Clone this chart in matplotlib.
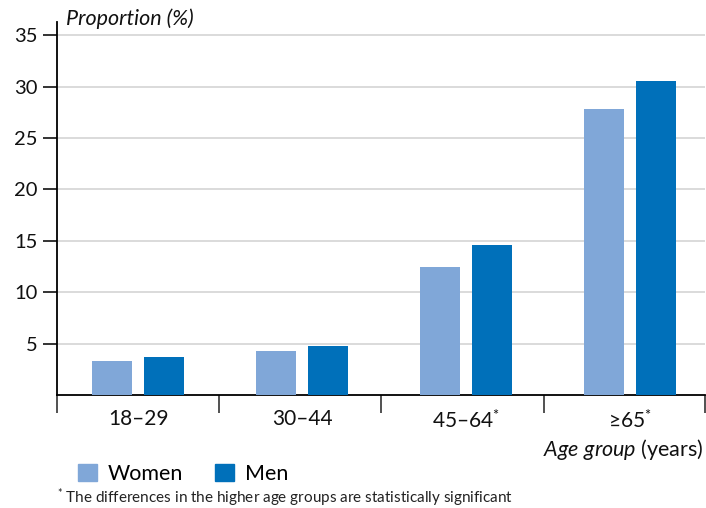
import matplotlib.pyplot as plt
from matplotlib.patches import Patch
import numpy as np

plt.rcParams['font.family'] = ['Lato', 'DejaVu Sans']
plt.rcParams['mathtext.fontset'] = 'custom'
plt.rcParams['mathtext.rm'] = 'Lato'
plt.rcParams['mathtext.it'] = 'Lato:italic'

# Data
age_groups = ['18–29', '30–44', '45–64$^{*}$', '≥65$^{*}$']
women = [3.3, 4.3, 12.5, 27.8]
men = [3.7, 4.8, 14.6, 30.6]
y_ticks = [5, 10, 15, 20, 25, 30, 35]

c_women = '#80A7D8'
c_men = '#0070BA'

fig = plt.figure(figsize=(7.06, 5.08), dpi=100)
ax = fig.add_axes([57 / 706, 1 - 395 / 508, 648 / 706, 373 / 508])

x = np.arange(len(age_groups))
w = 0.244
off = 0.159
ax.bar(x - off, women, width=w, color=c_women, zorder=3)
ax.bar(x + off, men, width=w, color=c_men, zorder=3)

# group separators (slightly narrower spacing than the bar groups)
edges = [-0.494, 0.494, 1.482, 2.476, 3.457]
ax.set_xlim(edges[0], edges[-1])
ax.set_ylim(0, 36.3)
ax.set_yticks(y_ticks)
ax.yaxis.grid(True, color='#d4d4d4', linewidth=1.2, zorder=0)

ax.set_xticks(x)
ax.set_xticklabels(age_groups, fontsize=15, color='#111111')
ax.tick_params(axis='x', which='major', length=0, pad=10)
ax.set_xticks(edges, minor=True)
ax.tick_params(axis='x', which='minor', length=13, width=1.2, color='#333333')
ax.tick_params(axis='y', length=10, width=1.2, labelsize=14.5, pad=4, colors='#111111')

for s in ['top', 'right']:
    ax.spines[s].set_visible(False)
ax.spines['left'].set_linewidth(1.3)
ax.spines['bottom'].set_linewidth(1.3)

fig.text(66 / 706, 1 - 19 / 508, 'Proportion (%)', fontsize=15.5, style='italic',
         va='center', ha='left', color='#111111')
fig.text(704 / 706, 1 - 449 / 508, '$\\mathit{Age\\ group}$ (years)', fontsize=15.5,
         va='center', ha='right', color='#111111')

handles = [Patch(color=c_women, label='Women'), Patch(color=c_men, label='Men')]
fig.legend(handles=handles, loc='center left', bbox_to_anchor=(72 / 706, 1 - 474 / 508),
           ncol=2, frameon=False, fontsize=15.5, handlelength=0.86, handleheight=0.86,
           handletextpad=0.5, columnspacing=1.5, borderpad=0, borderaxespad=0.3)

fig.text(57 / 706, 1 - 498 / 508,
         '$^{*}$ The differences in the higher age groups are statistically significant',
         fontsize=11, va='center', ha='left', color='#222222')

fig.savefig('out.png', dpi=100)
